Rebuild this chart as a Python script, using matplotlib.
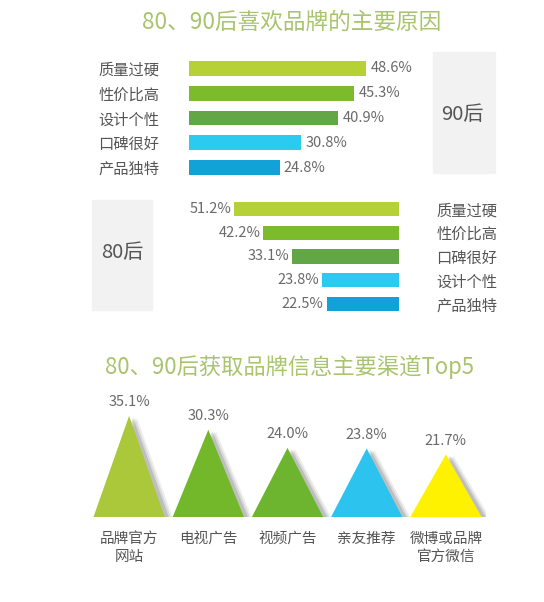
import matplotlib.pyplot as plt
import matplotlib.patches as mpatches
import numpy as np

plt.rcParams['font.family'] = ['Noto Sans CJK SC', 'DejaVu Sans']

# --- DATA ---
reasons_90 = ['质量过硬', '性价比高', '设计个性', '口碑很好', '产品独特']
values_90 = [48.6, 45.3, 40.9, 30.8, 24.8]
reasons_80 = ['质量过硬', '性价比高', '口碑很好', '设计个性', '产品独特']
values_80 = [51.2, 42.2, 33.1, 23.8, 22.5]
channels = ['品牌官方\n网站', '电视广告', '视频广告', '亲友推荐', '微博或品牌\n官方微信']
channel_values = [35.1, 30.3, 24.0, 23.8, 21.7]

TITLE_1 = '80、90后喜欢品牌的主要原因'
TITLE_2 = '80、90后获取品牌信息主要渠道Top5'

# --- STYLE ---
W, H = 544, 602
BAR_COLORS = ['#b6d136', '#7cbb2c', '#63a645', '#2ccaf0', '#12a2d8']
TRI_COLORS = ['#aac83a', '#73b72b', '#6db52e', '#2dc3ef', '#fff200']
TITLE_COLOR = '#a9c46e'
TEXT_COLOR = '#555555'
VALUE_COLOR = '#6a6a6a'
BOX_COLOR = '#f2f2f2'


def px_axes(fig, left, top, right, bottom):
    # axes placed by pixel box (origin top-left)
    return fig.add_axes([left / W, 1 - bottom / H, (right - left) / W, (bottom - top) / H])


def clean(ax):
    for s in ax.spines.values():
        s.set_visible(False)
    ax.patch.set_alpha(0)


fig = plt.figure(figsize=(W / 100, H / 100), dpi=100)
fig.patch.set_facecolor('white')

# titles
fig.text(292 / W, 1 - 22 / H, TITLE_1, ha='center', va='center', fontsize=16.3,
         color=TITLE_COLOR)
fig.text(290 / W, 1 - 367 / H, TITLE_2, ha='center', va='center', fontsize=16,
         color=TITLE_COLOR)

# grey side boxes
fig.patches.append(mpatches.Rectangle((433 / W, 1 - 173 / H), 62 / W, 121 / H,
                                      transform=fig.transFigure, color=BOX_COLOR, zorder=0))
fig.patches.append(mpatches.Rectangle((92 / W, 1 - 310 / H), 60 / W, 110 / H,
                                      transform=fig.transFigure, color=BOX_COLOR, zorder=0))
fig.text(462 / W, 1 - 114 / H, '90后', ha='center', va='center', fontsize=14.5, color=TEXT_COLOR)
fig.text(122 / W, 1 - 252 / H, '80后', ha='center', va='center', fontsize=14.5, color=TEXT_COLOR)

# --- 90后 bars ---
ax1 = px_axes(fig, 189, 56, 189 + 3.65 * 60, 180)
clean(ax1)
y1 = np.arange(len(reasons_90))
ax1.barh(y1, values_90, height=0.6, color=BAR_COLORS)
ax1.set_xlim(0, 60)
ax1.set_ylim(4.5, -0.5)
ax1.set_yticks(y1)
ax1.set_yticklabels(reasons_90, fontsize=11, color=TEXT_COLOR)
ax1.tick_params(axis='y', length=0, pad=21.5)
ax1.set_xticks([])
for yy, v in zip(y1, values_90):
    ax1.annotate(f'{v:.1f}%', (v, yy), xytext=(3, 0), textcoords='offset points',
                 ha='left', va='center', fontsize=10.5, color=VALUE_COLOR)

# --- 80后 bars (mirrored) ---
ax2 = px_axes(fig, 399 - 3.22 * 60, 197, 399, 316)
clean(ax2)
y2 = np.arange(len(reasons_80))
ax2.barh(y2, values_80, height=0.6, color=BAR_COLORS)
ax2.set_xlim(60, 0)
ax2.set_ylim(4.5, -0.5)
ax2.yaxis.tick_right()
ax2.set_yticks(y2)
ax2.set_yticklabels(reasons_80, fontsize=11, color=TEXT_COLOR)
ax2.tick_params(axis='y', length=0, pad=27)
ax2.set_xticks([])
for yy, v in zip(y2, values_80):
    ax2.annotate(f'{v:.1f}%', (v, yy), xytext=(-2, 0), textcoords='offset points',
                 ha='right', va='center', fontsize=10.5, color=VALUE_COLOR)

# --- channel triangles ---
ax3 = px_axes(fig, 89.5, 517 - 2.88 * 40, 485.5, 517)
clean(ax3)
ax3.set_xlim(-0.5, 4.5)
ax3.set_ylim(0, 40)
half = 0.45
for i, (v, c) in enumerate(zip(channel_values, TRI_COLORS)):
    # soft shadow on the right side
    for k, a in zip([0.1, 0.075, 0.05], [0.12, 0.18, 0.28]):
        ax3.add_patch(mpatches.Polygon([[i - half + k, 0], [i + k, v - 0.6], [i + half + k, 0]],
                                       closed=True, color='#7a7a7a', alpha=a, lw=0, zorder=1))
    ax3.add_patch(mpatches.Polygon([[i - half, 0], [i, v], [i + half, 0]],
                                   closed=True, color=c, lw=0, zorder=2))
    ax3.annotate(f'{v:.1f}%', (i, v), xytext=(0, 5), textcoords='offset points',
                 ha='center', va='bottom', fontsize=10.5, color=VALUE_COLOR)
ax3.set_xticks(range(len(channels)))
ax3.set_xticklabels(channels, fontsize=10.5, color=TEXT_COLOR, linespacing=1.35)
ax3.tick_params(axis='x', length=0, pad=11)
ax3.set_yticks([])

fig.savefig('out.png', dpi=100)
